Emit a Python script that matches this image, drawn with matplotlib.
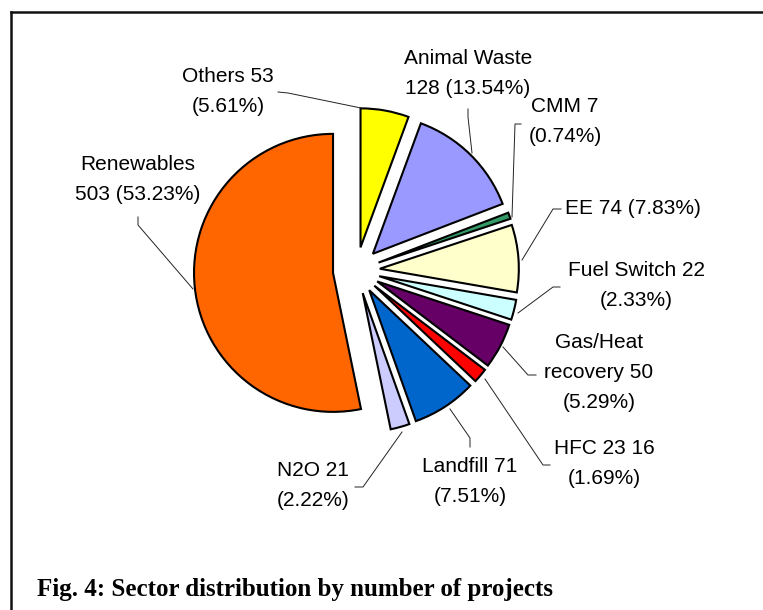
import matplotlib
matplotlib.use("Agg")
import matplotlib.pyplot as plt

# ---- data ----
categories = ["Animal Waste", "CMM", "EE", "Fuel Switch", "Gas/Heat recovery",
              "HFC 23", "Landfill", "N2O", "Renewables", "Others"]
values = [128, 7, 74, 22, 50, 16, 71, 21, 503, 53]
colors = ["#9999FF", "#339966", "#FFFFCC", "#CCFFFF", "#660066",
          "#FF0000", "#0066CC", "#CCCCFF", "#FF6600", "#FFFF00"]
caption = "Fig. 4: Sector distribution by number of projects"

total = sum(values)
pcts = [v / total * 100 for v in values]

# how each label is broken into lines
templates = ["{n}\n{v} ({p:.2f}%)", "{n} {v}\n({p:.2f}%)", "{n} {v} ({p:.2f}%)",
             "{n} {v}\n({p:.2f}%)", "{n1}\n{n2} {v}\n({p:.2f}%)", "{n} {v}\n({p:.2f}%)",
             "{n} {v}\n({p:.2f}%)", "{n} {v}\n({p:.2f}%)", "{n}\n{v} ({p:.2f}%)",
             "{n} {v}\n({p:.2f}%)"]

W, H = 763, 610
fig = plt.figure(figsize=(W / 100, H / 100), dpi=100)

# ---- pie axes (unit radius maps to R pixels) ----
R = 139.0
cx, cy = 356.4, 270.5
half = 230.0
ax = fig.add_axes([(cx - half) / W, (H - cy - half) / H, 2 * half / W, 2 * half / H])
ax.pie(values, colors=colors, startangle=69.8, counterclock=False,
       explode=[0.169] * len(values),
       wedgeprops=dict(edgecolor="black", linewidth=1.5))
ax.set_xlim(-half / R, half / R)
ax.set_ylim(-half / R, half / R)
ax.set_aspect("equal")
ax.axis("off")

# ---- overlay axes in pixel coordinates ----
ov = fig.add_axes([0, 0, 1, 1])
ov.set_xlim(0, W)
ov.set_ylim(H, 0)
ov.axis("off")

# frame lines (left and top)
ov.plot([10.5, 10.5], [H, 11.5], color="#111111", lw=1.8, solid_capstyle="projecting")
ov.plot([10.5, W], [11.5, 11.5], color="#111111", lw=1.8, solid_capstyle="projecting")

label_pos = [(468, 58), (565, 107), (633, 208), (636, 270), (599, 343),
             (604, 448), (470, 466), (313, 470), (138, 165), (228, 76)]
leaders = [
    [(468, 109), (468, 117), (472, 153)],
    [(521, 124), (515, 124), (512, 217)],
    [(561, 209), (553, 209), (522, 260)],
    [(560, 287), (553, 287), (518, 313)],
    [(536, 375), (528, 375), (503, 347)],
    [(550, 465), (543, 465), (485, 379)],
    [(470, 447), (470, 438), (450, 409)],
    [(355, 487), (363, 487), (402, 432)],
    [(138, 217), (138, 225), (193, 289)],
    [(278, 92), (288, 93), (361, 108)],
]

step = 30
for name, v, p, tpl, (lx, ly), ld in zip(categories, values, pcts, templates, label_pos, leaders):
    n1, _, n2 = name.partition(" ")
    txt = tpl.format(n=name, n1=n1, n2=n2, v=v, p=p)
    for i, line in enumerate(txt.split("\n")):
        ov.text(lx, ly + i * step, line, ha="center", va="center",
                fontsize=15, family="Liberation Sans", color="black")
    xs, ys = zip(*ld)
    ov.plot(xs, ys, color="#222222", lw=0.7)

ov.text(37, 596, caption, ha="left", va="baseline", fontsize=18,
        family="Liberation Serif", fontweight="bold", color="black")

fig.savefig("out.png", dpi=100)
